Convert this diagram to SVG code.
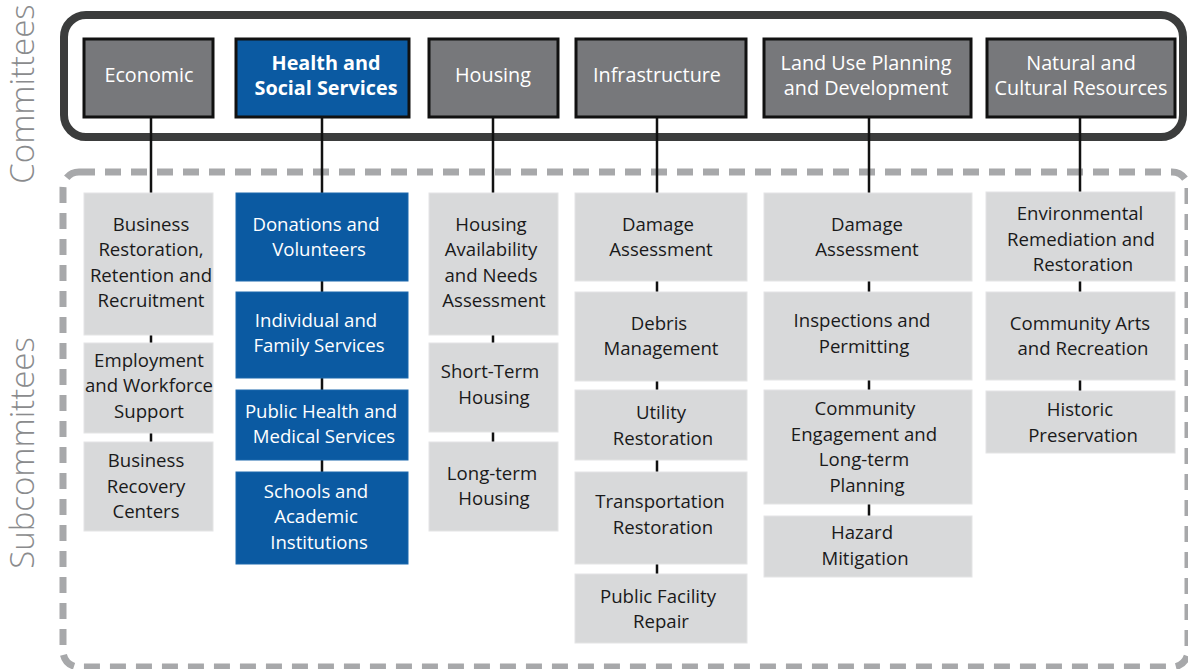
<svg xmlns="http://www.w3.org/2000/svg" width="1188" height="669" viewBox="0 0 1188 669">
<style>
.side{font-family:"Open Sans","Noto Sans",sans-serif;font-weight:300;font-size:33px;fill:#8a8b8d}
.com rect{fill:#77787b;stroke:#111;stroke-width:3}
.com.blue rect{fill:#0b5aa2}
.com text{font-family:"Open Sans","Noto Sans",sans-serif;font-size:19.8px;fill:#fff;text-anchor:middle}
.com.blue text{font-weight:bold}
.sub rect{fill:#d8d9da;stroke:#e4e4e5;stroke-width:1}
.sub text{font-family:"Open Sans","Noto Sans",sans-serif;font-size:18.6px;fill:#1a1a1a;text-anchor:middle}
.sub.blue rect{fill:#0b5aa2;stroke:#1d68ad}
.sub.blue text{fill:#fff}
.conn line{stroke:#111;stroke-width:2.5}
</style>
<rect x="0" y="0" width="1188" height="669" fill="#fff"/>
<text class="side" transform="translate(34,94) rotate(-90)" text-anchor="middle">Committees</text>
<text class="side" transform="translate(34,453) rotate(-90)" text-anchor="middle">Subcommittees</text>
<rect id="committees-frame" x="64" y="15" width="1119" height="122" rx="22" fill="none" stroke="#3b3c3c" stroke-width="8"/>
<rect id="subcommittees-frame" x="63" y="172" width="1125" height="495" rx="16" fill="none" stroke="#a7a8aa" stroke-width="7" stroke-dasharray="16 10"/>
<g id="connectors" class="conn">
<line x1="151" y1="117" x2="151" y2="442"/>
<line x1="322" y1="117" x2="322" y2="472"/>
<line x1="493" y1="117" x2="493" y2="442"/>
<line x1="657" y1="117" x2="657" y2="574"/>
<line x1="869" y1="117" x2="869" y2="516"/>
<line x1="1080" y1="117" x2="1080" y2="391"/>
</g>
<g id="c-economic" class="com"><rect x="84" y="39" width="129" height="78"/><text x="149" y="82">Economic</text></g>
<g id="c-health" class="com blue"><rect x="236" y="39" width="173" height="78"/><text x="326" y="70">Health and</text><text x="326" y="95">Social Services</text></g>
<g id="c-housing" class="com"><rect x="429" y="39" width="129" height="78"/><text x="493" y="82">Housing</text></g>
<g id="c-infrastructure" class="com"><rect x="576" y="39" width="170" height="78"/><text x="657" y="82">Infrastructure</text></g>
<g id="c-landuse" class="com"><rect x="764" y="39" width="207" height="78"/><text x="866" y="70">Land Use Planning</text><text x="866" y="95">and Development</text></g>
<g id="c-natural" class="com"><rect x="987" y="39" width="188" height="78"/><text x="1081" y="70">Natural and</text><text x="1081" y="95">Cultural Resources</text></g>

<g id="s-business-restoration" class="sub"><rect x="84" y="193" width="129" height="142"/><text x="151" y="231">Business</text><text x="151" y="256">Restoration,</text><text x="151" y="282">Retention and</text><text x="151" y="307">Recruitment</text></g>
<g id="s-employment" class="sub"><rect x="84" y="343" width="129" height="90"/><text x="149" y="367">Employment</text><text x="149" y="392">and Workforce</text><text x="149" y="418">Support</text></g>
<g id="s-business-recovery" class="sub"><rect x="84" y="442" width="129" height="89"/><text x="146" y="467">Business</text><text x="146" y="493">Recovery</text><text x="146" y="518">Centers</text></g>

<g id="s-donations" class="sub blue"><rect x="236" y="193" width="172" height="88"/><text x="316" y="231">Donations and</text><text x="319" y="256">Volunteers</text></g>
<g id="s-individual" class="sub blue"><rect x="236" y="292" width="172" height="86"/><text x="316" y="327">Individual and</text><text x="319" y="352">Family Services</text></g>
<g id="s-public-health" class="sub blue"><rect x="236" y="390" width="172" height="70"/><text x="321" y="418">Public Health and</text><text x="324" y="443">Medical Services</text></g>
<g id="s-schools" class="sub blue"><rect x="236" y="472" width="172" height="92"/><text x="316" y="498">Schools and</text><text x="316" y="523">Academic</text><text x="319" y="549">Institutions</text></g>

<g id="s-housing-availability" class="sub"><rect x="429" y="193" width="129" height="142"/><text x="491" y="231">Housing</text><text x="491" y="256">Availability</text><text x="491" y="282">and Needs</text><text x="494" y="307">Assessment</text></g>
<g id="s-short-term" class="sub"><rect x="429" y="343" width="129" height="89"/><text x="490" y="378">Short-Term</text><text x="494" y="404">Housing</text></g>
<g id="s-long-term" class="sub"><rect x="429" y="442" width="129" height="89"/><text x="492" y="480">Long-term</text><text x="494" y="505">Housing</text></g>

<g id="s-damage-infra" class="sub"><rect x="575" y="193" width="172" height="88"/><text x="658" y="231">Damage</text><text x="661" y="256">Assessment</text></g>
<g id="s-debris" class="sub"><rect x="575" y="292" width="172" height="89"/><text x="659" y="330">Debris</text><text x="661" y="355">Management</text></g>
<g id="s-utility" class="sub"><rect x="575" y="390" width="172" height="70"/><text x="661" y="419">Utility</text><text x="663" y="445">Restoration</text></g>
<g id="s-transportation" class="sub"><rect x="575" y="472" width="172" height="92"/><text x="660" y="508">Transportation</text><text x="663" y="534">Restoration</text></g>
<g id="s-public-facility" class="sub"><rect x="575" y="574" width="172" height="69"/><text x="658" y="603">Public Facility</text><text x="661" y="628">Repair</text></g>

<g id="s-damage-land" class="sub"><rect x="764" y="193" width="208" height="88"/><text x="867" y="231">Damage</text><text x="867" y="256">Assessment</text></g>
<g id="s-inspections" class="sub"><rect x="764" y="292" width="208" height="88"/><text x="862" y="327">Inspections and</text><text x="864" y="353">Permitting</text></g>
<g id="s-community-engagement" class="sub"><rect x="764" y="390" width="208" height="114"/><text x="865" y="415">Community</text><text x="864" y="441">Engagement and</text><text x="864" y="466">Long-term</text><text x="867" y="492">Planning</text></g>
<g id="s-hazard" class="sub"><rect x="764" y="516" width="208" height="61"/><text x="862" y="539">Hazard</text><text x="865" y="565">Mitigation</text></g>

<g id="s-environmental" class="sub"><rect x="986" y="192" width="189" height="89"/><text x="1080" y="220">Environmental</text><text x="1081" y="246">Remediation and</text><text x="1083" y="271">Restoration</text></g>
<g id="s-community-arts" class="sub"><rect x="986" y="292" width="189" height="88"/><text x="1080" y="330">Community Arts</text><text x="1083" y="355">and Recreation</text></g>
<g id="s-historic" class="sub"><rect x="986" y="391" width="189" height="62"/><text x="1080" y="416">Historic</text><text x="1083" y="442">Preservation</text></g>
</svg>
